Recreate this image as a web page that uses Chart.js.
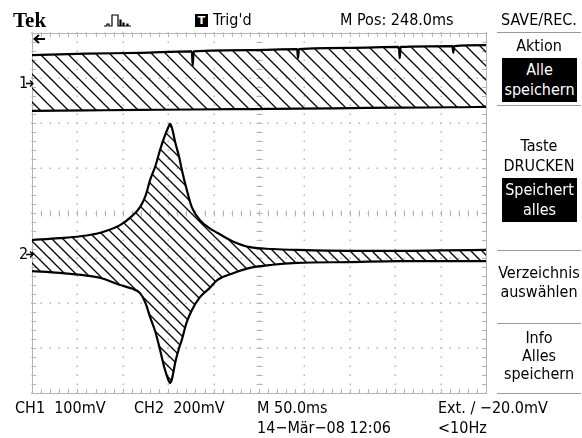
<!DOCTYPE html>
<html>
<head>
<meta charset="utf-8">
<script src="https://cdn.jsdelivr.net/npm/chart.js@4/dist/chart.umd.min.js"></script>
<style>
  body { margin: 0; background: #fff; }
  #wrap { position: relative; width: 582px; height: 438px; overflow: hidden; background: #fff; }
  #scope { position: absolute; left: 0; top: 0; }
  .t { position: absolute; font-family: "DejaVu Sans Condensed", "DejaVu Sans", sans-serif; font-stretch: condensed;
       font-size: 16px; line-height: 16px; white-space: nowrap; color: #000; }
  .c { width: 86px; text-align: center; left: 496px; }
  .box { position: absolute; left: 502px; width: 75px; background: #000; color: #fff; text-align: center; }
  .sep { position: absolute; left: 497px; width: 84px; height: 1px; background: #999; }
</style>
</head>
<body>
<div id="wrap">
  <canvas id="scope" width="582" height="438"></canvas>

  <div class="t" style="left:13px;top:9px;font-family:'Liberation Serif',serif;font-weight:bold;font-size:21px;line-height:22px;font-stretch:normal;">Tek</div>
  <svg style="position:absolute;left:104px;top:12px" width="34" height="16">
    <polyline points="0,14 3,14 3,12 5,12 5,14 8,14 8,3 14,3 14,14 16,14 16,8 17,8 17,14 19,14 19,11 20,11 20,14 23,14 23,12 24,12 24,14 27,14"
      fill="none" stroke="#000" stroke-width="1.2"/>
  </svg>
  <div style="position:absolute;left:195px;top:14px;width:13px;height:13px;background:#000;color:#fff;font:bold 11px 'DejaVu Sans',sans-serif;line-height:13px;text-align:center;">T</div>
  <div class="t" style="left:213px;top:12px;">Trig'd</div>
  <div class="t" style="left:340px;top:12px;">M Pos: 248.0ms</div>
  <div class="t c" style="top:12px;">SAVE/REC.</div>

  <div class="sep" style="top:32px;"></div>
  <div class="t c" style="top:38px;">Aktion</div>
  <div class="box t" style="top:58px;height:44px;line-height:20px;padding-top:2px;box-sizing:border-box;">Alle<br>speichern</div>
  <div class="sep" style="top:105px;"></div>
  <div class="t c" style="top:136px;line-height:20px;">Taste<br>DRUCKEN</div>
  <div class="box t" style="top:178px;height:44px;line-height:20px;padding-top:2px;box-sizing:border-box;">Speichert<br>alles</div>
  <div class="sep" style="top:250px;"></div>
  <div class="t c" style="top:263px;line-height:19px;">Verzeichnis<br>auswählen</div>
  <div class="sep" style="top:323px;"></div>
  <div class="t c" style="top:329px;line-height:18px;">Info<br>Alles<br>speichern</div>
  <div class="sep" style="top:393px;"></div>

  <div class="t" style="left:19px;top:75px;">1</div>
  <svg style="position:absolute;left:26px;top:79px" width="8" height="9"><path d="M0,4.5 H7 M4,1.5 L7,4.5 L4,7.5" fill="none" stroke="#000" stroke-width="1.3"/></svg>
  <div class="t" style="left:19px;top:246px;">2</div>
  <svg style="position:absolute;left:26px;top:250px" width="8" height="9"><path d="M0,4.5 H7 M4,1.5 L7,4.5 L4,7.5" fill="none" stroke="#000" stroke-width="1.3"/></svg>
  <svg style="position:absolute;left:33px;top:34px" width="13" height="10"><path d="M12,5 H2 M6,1 L1.5,5 L6,9" fill="none" stroke="#000" stroke-width="2"/></svg>

  <div class="t" style="left:15px;top:400px;">CH1&nbsp;&nbsp;100mV</div>
  <div class="t" style="left:134px;top:400px;">CH2&nbsp;&nbsp;200mV</div>
  <div class="t" style="left:257px;top:400px;">M 50.0ms</div>
  <div class="t" style="left:438px;top:400px;">Ext. ∕ −20.0mV</div>
  <div class="t" style="left:257px;top:420px;">14−Mär−08 12:06</div>
  <div class="t" style="left:438px;top:420px;">&lt;10Hz</div>
</div>

<script>
// time axis in ms (10 div x 50 ms), vertical axis in divisions (-4..4)
const ch1Times  = [0, 60, 120, 176, 177, 178, 240, 292, 293, 294, 350, 404, 405, 406, 463, 464, 465, 500];
const ch1Top    = [3.51, 3.54, 3.56, 3.59, 3.27, 3.59, 3.62, 3.64, 3.44, 3.64, 3.67, 3.69, 3.44, 3.69, 3.71, 3.56, 3.71, 3.73];
const ch1Bottom = [2.27, 2.28, 2.29, 2.30, 2.30, 2.30, 2.31, 2.32, 2.32, 2.32, 2.33, 2.34, 2.34, 2.34, 2.35, 2.35, 2.35, 2.36];

const ch2Times  = [0, 30, 60, 75, 97, 110, 119, 125, 130, 136, 141, 146, 150, 152, 154, 158, 162, 165, 170, 176, 185, 195, 204, 220, 240, 265, 292, 350, 405, 450, 500];
const ch2Top    = [-0.60, -0.56, -0.50, -0.44, -0.27, -0.07, 0.13, 0.38, 0.73, 1.05, 1.40, 1.70, 1.90, 1.98, 1.90, 1.55, 1.25, 0.96, 0.55, 0.13, -0.16, -0.33, -0.44, -0.62, -0.76, -0.80, -0.82, -0.84, -0.84, -0.83, -0.82];
const ch2Bottom = [-1.29, -1.33, -1.39, -1.44, -1.60, -1.68, -1.78, -2.00, -2.31, -2.65, -3.04, -3.45, -3.70, -3.78, -3.70, -3.30, -3.00, -2.82, -2.45, -2.16, -1.87, -1.68, -1.49, -1.35, -1.22, -1.15, -1.11, -1.09, -1.07, -1.07, -1.07];

const ctx = document.getElementById("scope").getContext("2d");

function hatch(s) {
    const c = document.createElement("canvas");
    c.width = s; c.height = s;
    const g = c.getContext("2d");
    g.strokeStyle = "#000";
    g.lineWidth = 1.3;
    g.beginPath();
    g.moveTo(-1, -1); g.lineTo(s + 1, s + 1);
    g.moveTo(-2, s - 2); g.lineTo(2, s + 2);
    g.moveTo(s - 2, -2); g.lineTo(s + 2, 2);
    g.stroke();
    return ctx.createPattern(c, "repeat");
}

function pts(xs, ys) {
    return xs.map((x, i) => ({ x: x, y: ys[i] }));
}

// dotted graticule with tick marks on the border and centre lines
const graticule = {
    id: "graticule",
    beforeDatasetsDraw(chart) {
        const { ctx, chartArea: a, scales: { x, y } } = chart;
        ctx.save();
        ctx.fillStyle = "#b4b4b4";
        for (let d = 0; d <= 10; d++) {
            const px = Math.round(x.getPixelForValue(d * 50));
            for (let k = 0; k <= 40; k++) {
                const py = Math.round(y.getPixelForValue(-4 + k * 0.2));
                ctx.fillRect(px - 0.5, py - 0.5, 1.5, 1.5);
            }
        }
        for (let d = -4; d <= 4; d++) {
            const py = Math.round(y.getPixelForValue(d));
            for (let k = 0; k <= 50; k++) {
                const px = Math.round(x.getPixelForValue(k * 10));
                ctx.fillRect(px - 0.5, py - 0.5, 1.5, 1.5);
            }
        }
        ctx.strokeStyle = "#b4b4b4";
        ctx.lineWidth = 1;
        ctx.beginPath();
        ctx.rect(Math.round(a.left) + 0.5, Math.round(a.top) + 0.5, Math.round(a.right - a.left), Math.round(a.bottom - a.top));
        const cy = Math.round(y.getPixelForValue(0)) + 0.5;
        const cx = Math.round(x.getPixelForValue(250)) + 0.5;
        for (let k = 0; k <= 50; k++) {
            const px = Math.round(x.getPixelForValue(k * 10)) + 0.5;
            ctx.moveTo(px, a.top); ctx.lineTo(px, a.top + 4);
            ctx.moveTo(px, a.bottom); ctx.lineTo(px, a.bottom - 4);
            ctx.moveTo(px, cy - 3); ctx.lineTo(px, cy + 3);
        }
        for (let k = 0; k <= 40; k++) {
            const py = Math.round(y.getPixelForValue(-4 + k * 0.2)) + 0.5;
            ctx.moveTo(a.left, py); ctx.lineTo(a.left + 4, py);
            ctx.moveTo(a.right, py); ctx.lineTo(a.right - 4, py);
            ctx.moveTo(cx - 3, py); ctx.lineTo(cx + 3, py);
        }
        ctx.stroke();
        ctx.restore();
    }
};

const line = { borderColor: "#000", borderWidth: 2.2, pointRadius: 0, cubicInterpolationMode: "monotone" };

new Chart(ctx, {
    type: "line",
    data: {
        datasets: [
            Object.assign({ label: "CH1 max", data: pts(ch1Times, ch1Top), fill: false, cubicInterpolationMode: "default", tension: 0 }, line),
            Object.assign({ label: "CH1 min", data: pts(ch1Times, ch1Bottom), fill: "-1", backgroundColor: hatch(14) }, line),
            Object.assign({ label: "CH2 max", data: pts(ch2Times, ch2Top), fill: false }, line),
            Object.assign({ label: "CH2 min", data: pts(ch2Times, ch2Bottom), fill: "-1", backgroundColor: hatch(11) }, line),
        ],
    },
    options: {
        responsive: false,
        animation: false,
        layout: { padding: { left: 32, top: 33, right: 96, bottom: 45 } },
        plugins: { legend: { display: false }, tooltip: { enabled: false } },
        scales: {
            x: { type: "linear", min: 0, max: 500, display: false },
            y: { type: "linear", min: -4, max: 4, display: false },
        },
    },
    plugins: [graticule],
});
</script>
</body>
</html>
